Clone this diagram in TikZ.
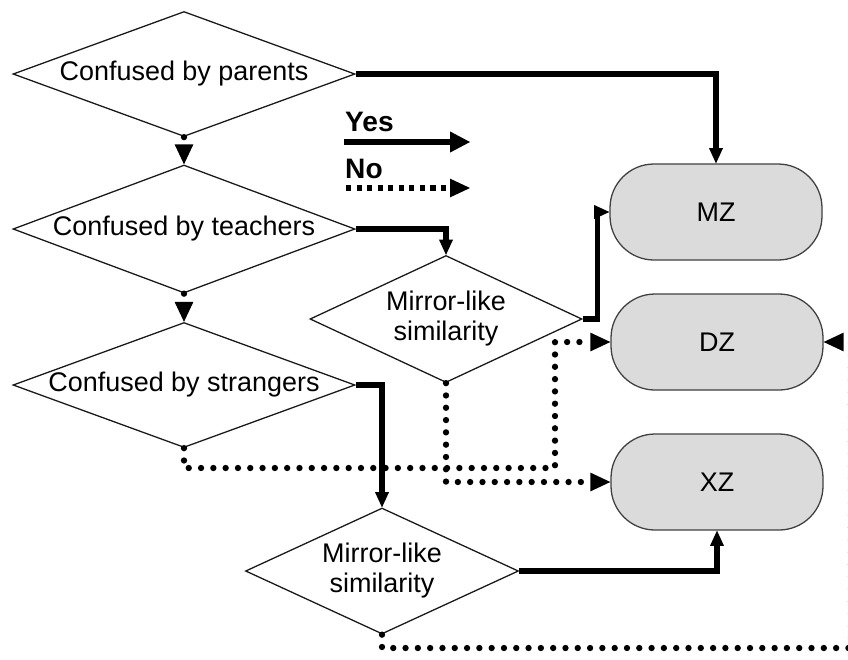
\documentclass[tikz,border=0pt]{standalone}
\usepackage{fontspec}
\setmainfont{Liberation Sans}
\usetikzlibrary{shapes.geometric,arrows.meta}
\newlength\pxu
\setlength\pxu{0.03cm}
\begin{document}
\begin{tikzpicture}[x=1\pxu, y=-1\pxu,
    decision/.style={diamond, draw=black!90, line width=1.1pt, inner sep=0pt,
        minimum width=342\pxu, minimum height=125\pxu},
    outcome/.style={rectangle, rounded corners=44\pxu, draw=black!75, line width=1.1pt,
        fill=black!14, minimum width=212\pxu, minimum height=96\pxu,
        font=\fontsize{23}{26}\selectfont},
    legend/.style={anchor=west, inner sep=0pt, font=\fontsize{24}{26}\selectfont\bfseries},
    yes/.style={line width=4.3pt, -{Triangle[length=13pt, width=12pt, line width=0pt]}},
    no/.style={line width=5.4pt, line cap=round, dash pattern=on 0pt off 10.5pt,
        -{Triangle[length=17pt, width=16pt, line width=0pt]}},
    legend dots/.style={line width=4.6pt, line cap=butt, dash pattern=on 4.4pt off 4.6pt},
    every label/.style={font=\fontsize{23}{25.6}\selectfont, align=center, inner sep=0pt}
]
    \useasboundingbox (0,0) rectangle (848,659);

    % Decisions
    \node[decision, label=center:Confused by parents] (parents) at (184,74) {};
    \node[decision, minimum height=128\pxu, label=center:Confused by teachers] (teachers) at (184,229) {};
    \node[decision, label=center:Confused by strangers] (strangers) at (184,385) {};
    \node[decision, minimum width=272\pxu, minimum height=127\pxu,
        label={center:Mirror-like\\similarity}] (mirrorA) at (446,319) {};
    \node[decision, minimum width=273\pxu, minimum height=126\pxu,
        label={center:Mirror-like\\similarity}] (mirrorB) at (382,571) {};

    % Outcomes
    \node[outcome] (mz) at (716,212) {MZ};
    \node[outcome] (dz) at (717,342) {DZ};
    \node[outcome] (xz) at (717,482) {XZ};

    % Legend
    \node[legend] (yesText) at (345,122) {Yes};
    \node[legend] (noText) at (345,169) {No};
    \coordinate (yesFrom) at (344,142);
    \coordinate (yesTo) at (470,142);
    \coordinate (noFrom) at (346,188);
    \coordinate (noTo) at (470,188);
    \draw[yes, line width=5pt, -{Triangle[length=17pt, width=18pt, line width=0pt]}] (yesFrom) -- (yesTo);
    \draw[no, legend dots] (noFrom) -- (noTo);

    % Turning points of the long dotted paths
    \coordinate (strangersTurn) at (555,468);
    \coordinate (mirrorBTurn) at (851,648);

    % Yes paths
    \draw[yes] (parents.east) -| (mz.north);
    \draw[yes] (teachers.east) -| (mirrorA.north);
    \draw[yes] (strangers.east) -| (mirrorB.north);
    \draw[yes] (mirrorA.east) -- ++(15,0) |- (mz.west);
    \draw[yes] (mirrorB.east) -| (xz.south);

    % No paths
    \draw[no] (parents.south) -- (teachers.north);
    \draw[no] (teachers.south) -- (strangers.north);
    \draw[no] (mirrorA.south) |- (xz.west);
    \draw[no] (strangers.south) |- (strangersTurn) |- (dz.west);
    \draw[no] (mirrorB.south) |- (mirrorBTurn) |- (dz.east);

\end{tikzpicture}
\end{document}
